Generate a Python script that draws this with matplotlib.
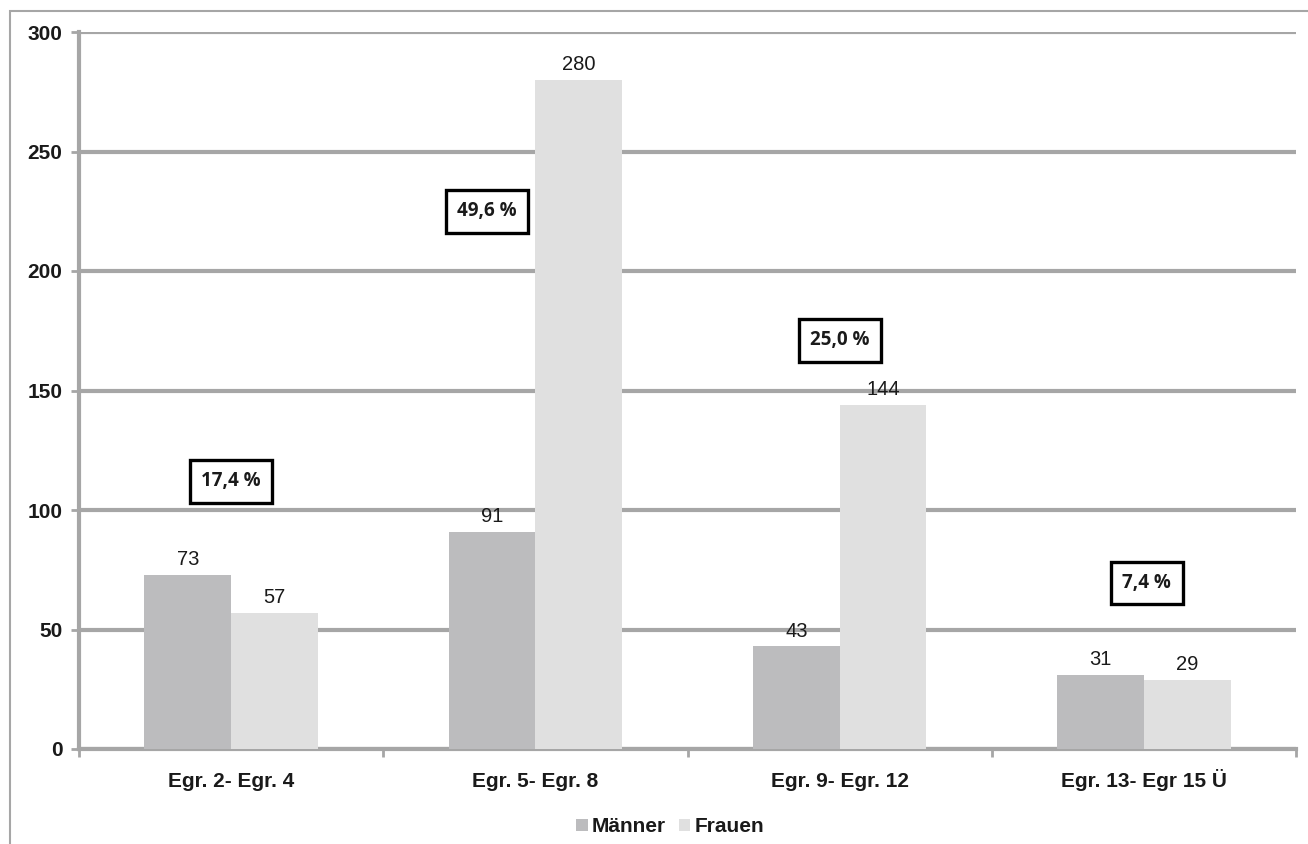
import matplotlib.pyplot as plt
import numpy as np
from matplotlib.patches import Rectangle

groups = ["Egr. 2- Egr. 4", "Egr. 5- Egr. 8", "Egr. 9- Egr. 12", "Egr. 13- Egr 15 Ü"]
maenner = [73, 91, 43, 31]
frauen = [57, 280, 144, 29]
shares = ["17,4 %", "49,6 %", "25,0 %", "7,4 %"]
share_x = [0.0, 0.84, 2.0, 3.01]
share_y = [112, 225, 171, 69.5]

plt.rcParams["font.family"] = ["Liberation Sans", "DejaVu Sans"]

fig = plt.figure(figsize=(13.08, 8.44), dpi=100)
ax = fig.add_axes([79 / 1308, 1 - 749 / 844, (1296 - 79) / 1308, (749 - 32) / 844])

# outer chart frame
fig.patches.append(Rectangle((10 / 1308, -0.05), 1.2, 1 - 11 / 844 + 0.05,
                             transform=fig.transFigure, fill=False,
                             edgecolor="#a6a6a6", linewidth=1.5))

barWidth = 0.285
ind = np.arange(len(groups))
gray = "#a6a6a6"
txt = "#1a1a1a"

b1 = ax.bar(ind - barWidth / 2, maenner, width=barWidth, color="#bcbcbe", label="Männer", zorder=3)
b2 = ax.bar(ind + barWidth / 2, frauen, width=barWidth, color="#e0e0e0", label="Frauen", zorder=3)

for bars, vals in ((b1, maenner), (b2, frauen)):
    for r, v in zip(bars, vals):
        ax.annotate(str(v), (r.get_x() + r.get_width() / 2, v), xytext=(0, 7),
                    textcoords="offset points", ha="center", va="baseline",
                    fontsize=14.5, color=txt)

for x, y, s in zip(share_x, share_y, shares):
    ax.text(x, y, s, ha="center", va="center", fontsize=13.5, fontweight="bold",
            family=["Open Sans", "DejaVu Sans"], color=txt, zorder=5,
            bbox=dict(boxstyle="square,pad=0.6", facecolor="white", edgecolor="black", linewidth=2.4))

ax.set_xlim(-0.5, 3.5)
ax.set_ylim(0, 300)
ax.set_yticks(range(0, 301, 50))
ax.yaxis.grid(True, color=gray, linewidth=3, zorder=0)
ax.set_axisbelow(True)

# category labels on a common baseline
ax.set_xticks(ind)
ax.set_xticklabels([])
ax.tick_params(axis="x", length=0)
for i, g in enumerate(groups):
    ax.text(i, -0.053, g, transform=ax.get_xaxis_transform(), ha="center", va="baseline",
            fontsize=15, fontweight="bold", color=txt)
ax.set_xticks(np.arange(-0.5, 3.6, 1), minor=True)
ax.tick_params(axis="x", which="minor", length=6, width=2, color=gray)
ax.tick_params(axis="y", length=6, width=2, color=gray, pad=6)
for lab in ax.get_yticklabels():
    lab.set_fontweight("bold")
    lab.set_fontsize(15)
    lab.set_color(txt)

for side in ("top", "right"):
    ax.spines[side].set_visible(False)
for side in ("left", "bottom"):
    ax.spines[side].set_color(gray)
    ax.spines[side].set_linewidth(3)

leg = fig.legend(handles=[b1, b2], loc="center", bbox_to_anchor=(670 / 1308, 1 - 827 / 844),
                 ncol=2, frameon=False, prop={"weight": "bold", "size": 15},
                 handlelength=0.55, handleheight=0.55, handletextpad=0.2, columnspacing=0.6,
                 labelcolor=txt)

plt.savefig("out.png", dpi=100)
